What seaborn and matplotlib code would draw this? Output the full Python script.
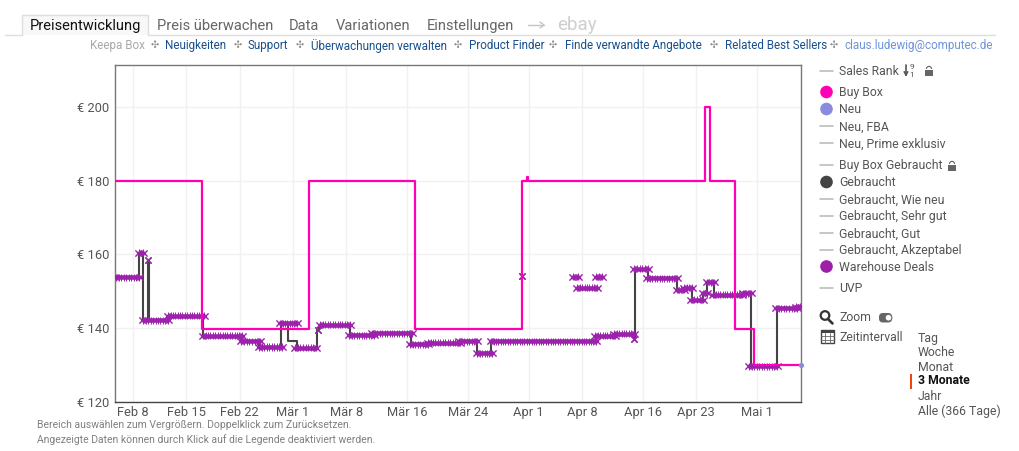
import matplotlib
matplotlib.use("Agg")
import matplotlib.pyplot as plt
import matplotlib.patheffects as pe
from matplotlib.patches import Circle, Rectangle, FancyBboxPatch, Wedge
import numpy as np
import pandas as pd
import seaborn as sns

# Day offsets are counted from 8 February
ORIGIN = pd.Timestamp("2021-02-08")

tick_days = [0, 7, 14, 21, 28, 36, 44, 52, 59, 67, 74, 82]
tick_labels = ["Feb 8", "Feb 15", "Feb 22", "Mär 1", "Mär 8", "Mär 16", "Mär 24",
               "Apr 1", "Apr 8", "Apr 16", "Apr 23", "Mai 1"]
month_days = [21, 52, 82]
price_ticks = [120, 140, 160, 180, 200]

buybox_days = [-2.37, 9.07, 23.13, 37.06, 51.16, 51.75, 51.9, 75.16, 75.76, 79.1, 81.6, 87.78]
buybox_price = [180, 139.8, 180, 139.8, 180, 181, 180, 200, 180, 139.8, 130, 130]

used_days = [-2.37, 0.83, 1.35, 1.97, 2.10, 4.60, 9.20, 14.19, 16.56, 19.45, 20.37, 21.55,
             24.18, 24.44, 28.52, 31.54, 36.53, 38.76, 42.97, 45.20, 47.04, 60.84, 63.34,
             65.83, 65.93, 67.67, 71.49, 72.40, 73.46, 74.90, 75.43, 76.35, 80.16, 81.21,
             84.63, 87.25, 87.78]
used_price = [153.8, 160.4, 142.1, 158.6, 142.1, 143.4, 138.0, 136.5, 134.9, 141.3, 136.4, 134.7,
              139.6, 140.9, 138.1, 138.6, 135.6, 136.1, 136.5, 133.2, 136.5, 137.9, 138.5,
              137.0, 156.1, 153.5, 150.4, 150.9, 147.7, 149.4, 152.4, 149.1, 149.5, 129.7,
              145.4, 145.8, 145.8]

# Warehouse offers: each one holds a price from its first to its last day
wh_start = [-2.37, 0.66, 1.97, 1.18, 4.47, 9.07, 14.06, 16.43, 19.19, 21.16, 24.31, 24.44, 28.25,
            31.27, 36.27, 38.63, 42.71, 45.07, 46.91, 60.58, 63.07, 65.83, 65.70, 67.41, 71.36,
            72.27, 73.19, 74.77, 75.30, 76.08, 80.03, 80.82, 84.36, 86.99,
            51.16, 57.69, 60.71, 58.21]
wh_end = [0.92, 1.45, 1.97, 4.73, 9.46, 14.45, 16.82, 19.71, 21.68, 24.18, 24.31, 28.65, 31.80,
          36.79, 38.90, 43.10, 45.33, 47.31, 60.97, 63.47, 65.97, 65.83, 67.81, 71.62, 72.54,
          73.59, 75.03, 75.56, 76.48, 80.16, 81.34, 84.76, 87.38, 87.78,
          51.16, 58.61, 61.76, 61.10]
wh_price = [153.8, 160.4, 158.6, 142.1, 143.4, 138.0, 136.5, 134.9, 141.3, 134.7, 139.6, 140.9, 138.1,
            138.6, 135.6, 136.1, 136.5, 133.2, 136.5, 137.9, 138.5, 137.0, 156.1, 153.5, 150.4,
            150.9, 147.7, 149.4, 152.4, 149.1, 149.5, 129.7, 145.4, 145.8,
            154.1, 154.0, 154.0, 150.9]

new_day = [87.75]
new_price = [130]

tabs = [("Preisentwicklung", 30, "#111111"), ("Preis überwachen", 157, "#666666"),
        ("Data", 289, "#666666"), ("Variationen", 336, "#666666"), ("Einstellungen", 427, "#666666")]
nav_links = [("Neuigkeiten", 165), ("Support", 248), ("Überwachungen verwalten", 311),
             ("Product Finder", 469), ("Finde verwandte Angebote", 565), ("Related Best Sellers", 725)]
nav_seps = [155, 238, 300, 458, 553, 714, 834]
legend_rows = [("Sales Rank", 70.5, None), ("Buy Box", 92, "#ff00b4"), ("Neu", 109, "#8a8adf"),
               ("Neu, FBA", 126, None), ("Neu, Prime exklusiv", 143, None),
               ("Buy Box Gebraucht", 165, None), ("Gebraucht", 182, "#444444"),
               ("Gebraucht, Wie neu", 199, None), ("Gebraucht, Sehr gut", 216, None),
               ("Gebraucht, Gut", 233, None), ("Gebraucht, Akzeptabel", 249.5, None),
               ("Warehouse Deals", 266.5, "#9c1fa8"), ("UVP", 288, None)]
ranges = [("Tag", 338), ("Woche", 352), ("Monat", 367), ("3 Monate", 380),
          ("Jahr", 396), ("Alle (366 Tage)", 410)]


def to_dates(days):
    return ORIGIN + pd.to_timedelta(np.asarray(days, dtype=float), unit="D")


sns.set_theme(style="white")
plt.rcParams["font.family"] = ["Roboto", "DejaVu Sans"]

WIDTH, HEIGHT = 1020, 451
fig = plt.figure(figsize=(WIDTH / 100, HEIGHT / 100), dpi=100, facecolor="white")

# Price chart
ax = fig.add_axes([115 / WIDTH, 1 - 402 / HEIGHT, 686 / WIDTH, 337 / HEIGHT])
ax.set_xlim(to_dates([-2.37])[0], to_dates([87.78])[0])
ax.set_ylim(120, 211.3)
ax.grid(True, color="#f1f1f1", linewidth=1)
ax.set_axisbelow(True)

used = pd.DataFrame({"date": to_dates(used_days), "price": used_price})
sns.lineplot(data=used, x="date", y="price", ax=ax, color="#444444", linewidth=1.5,
             drawstyle="steps-post", estimator=None, sort=False, zorder=2)

offers = pd.DataFrame({
    "date": list(to_dates(wh_start)) + list(to_dates(wh_end)),
    "price": wh_price + wh_price,
    "offer": list(range(len(wh_price))) * 2,
})
lengths = dict(enumerate(np.subtract(wh_end, wh_start)))
held = offers[offers["offer"].map(lengths) > 0.5]
# Overlapping daily crosses read as a solid band with a jagged edge
band_effects = [
    pe.Normal(),
    pe.TickedStroke(angle=90, spacing=1.7, length=1.5, linewidth=0.7),
    pe.TickedStroke(angle=-90, spacing=1.7, length=1.5, linewidth=0.7),
]
sns.lineplot(data=held, x="date", y="price", units="offer", estimator=None, sort=False,
             ax=ax, color="#9c22ac", linewidth=3.3, zorder=3, legend=False,
             solid_capstyle="butt", path_effects=band_effects)
sns.scatterplot(data=offers, x="date", y="price", ax=ax, marker="x", s=20, linewidth=1,
                color="#9c22ac", zorder=3, legend=False)

buybox = pd.DataFrame({"date": to_dates(buybox_days), "price": buybox_price})
sns.lineplot(data=buybox, x="date", y="price", ax=ax, color="#ff00b4", linewidth=1.6,
             drawstyle="steps-post", estimator=None, sort=False, zorder=4)

newest = pd.DataFrame({"date": to_dates(new_day), "price": new_price})
sns.scatterplot(data=newest, x="date", y="price", ax=ax, color="#8a8adf", s=14, linewidth=0,
                zorder=5, clip_on=False, legend=False)

ax.set_xlabel("")
ax.set_ylabel("")
ax.set_xticks(to_dates(tick_days))
ax.set_xticklabels(tick_labels)
ax.set_xticks(to_dates(month_days), minor=True)
ax.set_yticks(price_ticks)
ax.set_yticklabels([f"€ {p}" for p in price_ticks])
ax.tick_params(axis="both", which="major", length=0, labelsize=9.3, labelcolor="#555555")
ax.tick_params(axis="x", which="major", pad=3)
ax.tick_params(axis="y", which="major", pad=4)
ax.tick_params(axis="x", which="minor", direction="in", length=2, width=1, color="#999999", bottom=True)
for side, spine in ax.spines.items():
    spine.set_visible(True)
    spine.set_linewidth(1)
    spine.set_color("#444444" if side == "bottom" else "#777777")

# Page elements around the chart, placed in pixel coordinates
ui = fig.add_axes([0, 0, 1, 1], facecolor="none", zorder=10)
ui.set_xlim(0, WIDTH)
ui.set_ylim(HEIGHT, 0)
ui.axis("off")


def label(x, y, text, size=8.8, color="#555555", **kw):
    ui.text(x, y + 0.8, text, fontsize=size, color=color, va="center", ha=kw.pop("ha", "left"), **kw)


ui.add_patch(Rectangle((22, 14.5), 126, 20, facecolor="#f8f8f8", edgecolor="none"))
ui.plot([5, 22, 22, 148, 148, 995], [34.5, 34.5, 14.5, 14.5, 34.5, 34.5], color="#dedede", lw=1)
for text, x, color in tabs:
    label(x, 25, text, size=10.5, color=color)
ui.plot([528, 544], [25, 25], color="#c4c4c4", lw=1)
ui.plot([540, 544, 540], [22, 25, 28], color="#c4c4c4", lw=1)
label(557, 24, "ebay", size=13.5, color="#cfcfcf")

label(90, 45, "Keepa Box", size=8.4, color="#a8a8a8")
for text, x in nav_links:
    label(x, 45, text, size=8.4, color="#174f8c")
for x in nav_seps:
    label(x, 44.5, "✣", size=7, color="#8a8a8a", family="DejaVu Sans", ha="center")
label(845, 45, "claus.ludewig@computec.de", size=8.4, color="#6f93dc")

for text, y, dot in legend_rows:
    label(839, y, text)
    if dot:
        ui.add_patch(Circle((826.5, y), 6.3, color=dot, lw=0))
    else:
        ui.plot([820, 833], [y, y], color="#bdbdbd", lw=1.2)


def lock(x, y):
    ui.add_patch(Rectangle((x - 4, y - 1), 8, 6, color="#666666", lw=0))
    ui.add_patch(Wedge((x, y - 2), 3.2, 180, 360, width=1.2, color="#666666", lw=0))


lock(929, 71)
lock(952, 166)
ui.annotate("", xy=(906, 77), xytext=(906, 65),
            arrowprops=dict(arrowstyle="->", color="#555555", lw=1.2, shrinkA=0, shrinkB=0, mutation_scale=6))
label(909.5, 66.5, "9", size=6)
label(909.5, 74.5, "1", size=6)

# Zoom control
ui.add_patch(Circle((825, 315.5), 4.3, fill=False, edgecolor="#333333", lw=1.6))
ui.plot([828, 832.5], [319, 323.5], color="#333333", lw=1.9)
label(839, 317, "Zoom")
ui.add_patch(FancyBboxPatch((881, 315), 9, 5.5, boxstyle="round,pad=2,rounding_size=4", mutation_aspect=1,
                            facecolor="#666666", edgecolor="#666666", lw=0))
ui.add_patch(Circle((888.5, 317.7), 3.4, facecolor="white", edgecolor="#666666", lw=0.8))

# Time range selector
ui.add_patch(Rectangle((821, 330), 13, 13, facecolor="none", edgecolor="#444444", lw=1))
ui.add_patch(Rectangle((821, 330), 13, 3, color="#444444", lw=0))
for gx in (825.3, 829.6):
    ui.plot([gx, gx], [333, 343], color="#666666", lw=0.6)
for gy in (336.3, 339.6):
    ui.plot([821, 834], [gy, gy], color="#666666", lw=0.6)
label(839, 337, "Zeitintervall")
for text, y in ranges:
    if text == "3 Monate":
        label(918, y, text, color="#111111", fontweight="bold")
    else:
        label(918, y, text)
ui.add_patch(Rectangle((910, 374), 2, 15, color="#f0430f", lw=0))

label(37, 424.5, "Bereich auswählen zum Vergrößern. Doppelklick zum Zurücksetzen.", size=7.5, color="#808080")
label(37, 438.5, "Angezeigte Daten können durch Klick auf die Legende deaktiviert werden.", size=7.5, color="#808080")

fig.savefig("out.png", dpi=100)
